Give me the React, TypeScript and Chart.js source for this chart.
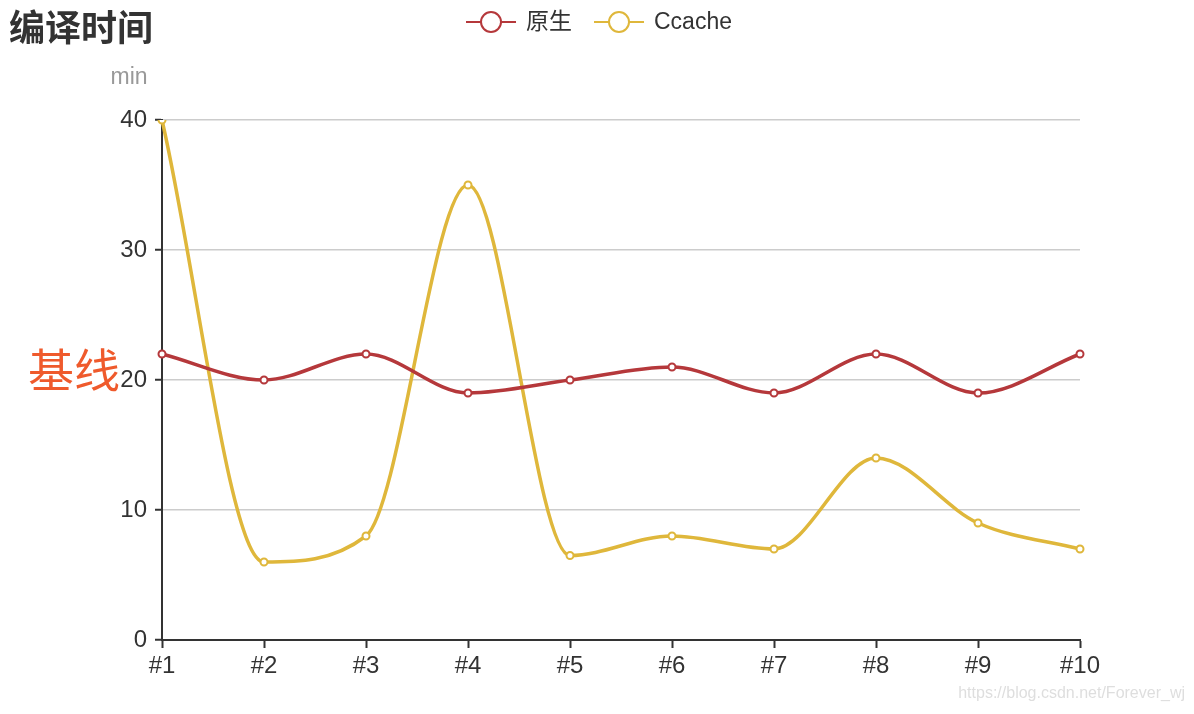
import React, { useEffect, useRef } from "react";
import { Chart, registerables } from "chart.js";

Chart.register(...registerables);

const categories = ["#1", "#2", "#3", "#4", "#5", "#6", "#7", "#8", "#9", "#10"];
const nativeTimes = [22, 20, 22, 19, 20, 21, 19, 22, 19, 22];
const ccacheTimes = [40, 6, 8, 35, 6.5, 8, 7, 14, 9, 7];
const seriesNames = ["原生", "Ccache"];
const seriesColors = ["#b5383b", "#dfb73b"];
const yTicks = [0, 10, 20, 30, 40];
const titleText = "编译时间";
const yAxisName = "min";
const baselineLabel = "基线";
const baselineValue = 20;
const watermark = "https://blog.csdn.net/Forever_wj";

const FONT = "'Liberation Sans', Arial, 'Noto Sans CJK SC', sans-serif";
const CJK = "'Noto Sans CJK SC', 'Liberation Sans', sans-serif";

const decorPlugin = {
  id: "decor",
  afterDraw(chart: any) {
    const ctx = chart.ctx as CanvasRenderingContext2D;
    const yScale = chart.scales.y;
    ctx.save();
    // title
    ctx.fillStyle = "#333";
    ctx.font = `bold 36px ${CJK}`;
    ctx.textAlign = "left";
    ctx.textBaseline = "middle";
    ctx.fillText(titleText, 9, 27);

    // y axis name
    ctx.fillStyle = "#999";
    ctx.font = `23px ${FONT}`;
    ctx.textAlign = "center";
    ctx.fillText(yAxisName, 129, 78);

    // baseline label
    ctx.fillStyle = "#ef5a2c";
    ctx.font = `46px ${CJK}`;
    ctx.textAlign = "right";
    ctx.textBaseline = "alphabetic";
    ctx.fillText(baselineLabel, 120, yScale.getPixelForValue(baselineValue) + 7);

    // legend
    ctx.font = `23px ${FONT}`;
    const iconW = 50;
    const gapText = 10;
    const gapItem = 22;
    const widths = chart.data.datasets.map((d: any) => ctx.measureText(d.label).width);
    let total = 0;
    widths.forEach((w: number, i: number) => {
      total += iconW + gapText + w + (i > 0 ? gapItem : 0);
    });
    let x = chart.width / 2 - total / 2 + 2;
    const ly = 22;
    chart.data.datasets.forEach((d: any, i: number) => {
      ctx.strokeStyle = d.borderColor;
      ctx.lineWidth = 2;
      ctx.beginPath();
      ctx.moveTo(x, ly);
      ctx.lineTo(x + iconW, ly);
      ctx.stroke();
      ctx.beginPath();
      ctx.arc(x + iconW / 2, ly, 10, 0, Math.PI * 2);
      ctx.fillStyle = "#fff";
      ctx.fill();
      ctx.stroke();
      ctx.fillStyle = "#333";
      ctx.textAlign = "left";
      ctx.textBaseline = "middle";
      ctx.fillText(d.label, x + iconW + gapText, ly + 1);
      x += iconW + gapText + widths[i] + gapItem;
    });

    // watermark
    ctx.fillStyle = "#dedede";
    ctx.font = `16px ${FONT}`;
    ctx.textAlign = "right";
    ctx.textBaseline = "middle";
    ctx.fillText(watermark, 1185, 694);
    ctx.restore();
  },
};

export default function App() {
  const ref = useRef<HTMLCanvasElement | null>(null);
  useEffect(() => {
    document.body.style.margin = "0";
    const canvas = ref.current!;
    const chart = new Chart(canvas, {
      type: "line",
      data: {
        labels: categories,
        datasets: [nativeTimes, ccacheTimes].map((data, i) => ({
          label: seriesNames[i],
          data,
          borderColor: seriesColors[i],
          backgroundColor: "#fff",
          borderWidth: 3.5,
          pointRadius: 3.5,
          pointBorderWidth: 2,
          pointBackgroundColor: "#fff",
          pointBorderColor: seriesColors[i],
          cubicInterpolationMode: "monotone" as const,
          fill: false,
        })),
      },
      options: {
        animation: false,
        responsive: false,
        maintainAspectRatio: false,
        layout: { padding: { top: 120, right: 114, left: 0, bottom: 0 } },
        plugins: {
          legend: { display: false },
          title: { display: false },
          tooltip: { enabled: false },
        },
        scales: {
          x: {
            type: "category",
            offset: false,
            afterFit(scale: any) {
              scale.height = 74;
            },
            grid: {
              display: true,
              drawOnChartArea: false,
              drawTicks: true,
              tickLength: 8,
              tickColor: "#333",
              tickWidth: 2,
              color: "#333",
            },
            border: { display: true, color: "#333", width: 2 },
            ticks: {
              color: "#333",
              font: { size: 24, family: FONT },
              padding: 4,
              maxRotation: 0,
              autoSkip: false,
            },
          },
          y: {
            min: 0,
            max: 40,
            afterFit(scale: any) {
              scale.width = 162;
            },
            afterBuildTicks(scale: any) {
              scale.ticks = yTicks.map((v) => ({ value: v }));
            },
            grid: {
              color: "#cccccc",
              lineWidth: 1.5,
              drawTicks: true,
              tickLength: 7,
              tickColor: "#333",
              tickWidth: 2,
            },
            border: { display: true, color: "#333", width: 2 },
            ticks: {
              color: "#333",
              font: { size: 24, family: FONT },
              padding: 8,
            },
          },
        },
      },
      plugins: [decorPlugin],
    });
    return () => chart.destroy();
  }, []);
  return (
    <div style={{ position: "absolute", left: 0, top: 0, width: 1194, height: 714 }}>
      <canvas ref={ref} width={1194} height={714} style={{ display: "block", width: 1194, height: 714 }} />
    </div>
  );
}
